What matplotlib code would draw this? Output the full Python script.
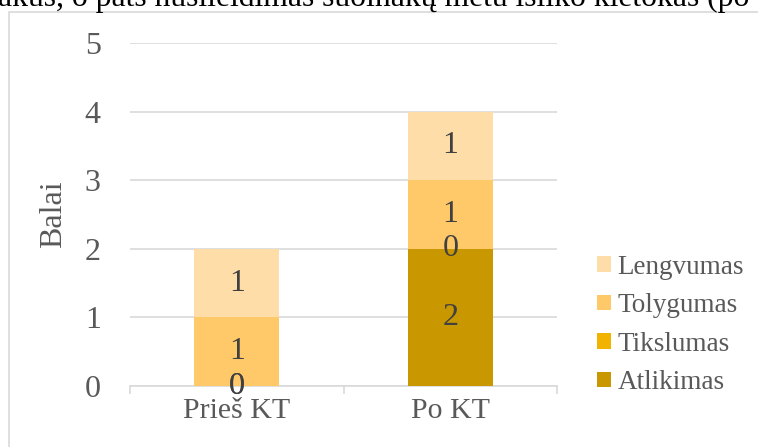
import matplotlib
matplotlib.use('Agg')
import matplotlib.pyplot as plt
from matplotlib.patches import Rectangle, Patch
import numpy as np

plt.rcParams['font.family'] = ['Liberation Serif', 'DejaVu Serif']

# Balai pagal kriterijus
grupes = ['Prieš KT', 'Po KT']
atlikimas = [0, 2]
tikslumas = [0, 0]
tolygumas = [1, 1]
lengvumas = [1, 1]

serijos = ['Atlikimas', 'Tikslumas', 'Tolygumas', 'Lengvumas']
reiksmes = [atlikimas, tikslumas, tolygumas, lengvumas]
spalvos = ['#C99700', '#F2B300', '#FFC869', '#FFDDA9']

fig = plt.figure(figsize=(7.58, 4.47), dpi=100)

# teksto eilutė virš diagramos (nukirpta viršuje)
fig.text(-0.002, 1 - 6 / 447, 'akus, o pats nusileidimas šuolnakų metu išliko kietokas (po',
         fontsize=22.8, color='black', va='baseline', ha='left')

# diagramos rėmelis
fig.patches.append(Rectangle((8.5 / 758, -0.1), 1.2, 1.1 - 12.5 / 447,
                             transform=fig.transFigure, fill=False,
                             edgecolor='#D9D9D9', linewidth=1.2))

ax = fig.add_axes([130 / 758, 1 - 386 / 447, 427 / 758, 343 / 447])

x = np.arange(len(grupes))
plotis = 0.40
apacia = np.zeros(len(grupes))
for pav, vals, sp in zip(serijos, reiksmes, spalvos):
    vals = np.array(vals, dtype=float)
    ax.bar(x, vals, plotis, bottom=apacia, color=sp, label=pav, zorder=3)
    for xi, b, v in zip(x, apacia, vals):
        ax.text(xi, b + v / 2, f'{v:.0f}', ha='center', va='center',
                fontsize=23, color='#404040', zorder=4)
    apacia += vals

ax.set_xlim(-0.5, 1.5)
ax.set_ylim(0, 5)
ax.set_yticks(range(0, 6))
ax.yaxis.grid(True, color='#D9D9D9', linewidth=1.2, zorder=0)
ax.tick_params(axis='y', length=0, pad=21, labelsize=23, labelcolor='#595959')
ax.set_xticks(x)
ax.set_xticklabels(grupes)
ax.tick_params(axis='x', length=0, pad=9, labelsize=21.5, labelcolor='#595959')
ax.set_xticks([-0.5, 0.5, 1.5], minor=True)
ax.tick_params(axis='x', which='minor', length=6, color='#D9D9D9', width=1.2)
for s in ['top', 'right', 'left']:
    ax.spines[s].set_visible(False)
ax.spines['bottom'].set_color('#D9D9D9')
ax.spines['bottom'].set_linewidth(1.2)
ax.set_ylabel('Balai', fontsize=23, color='#595959', labelpad=12)

rankenos = [Patch(facecolor=sp, label=pav) for pav, sp in zip(serijos, spalvos)][::-1]
fig.legend(handles=rankenos, loc='center left', bbox_to_anchor=(597 / 758, 1 - 325 / 447),
           frameon=False, fontsize=19.5, labelcolor='#595959', handlelength=0.5,
           handleheight=0.5, handletextpad=0.25, labelspacing=0.5, borderpad=0,
           borderaxespad=0)

fig.savefig('out.png', dpi=100)
